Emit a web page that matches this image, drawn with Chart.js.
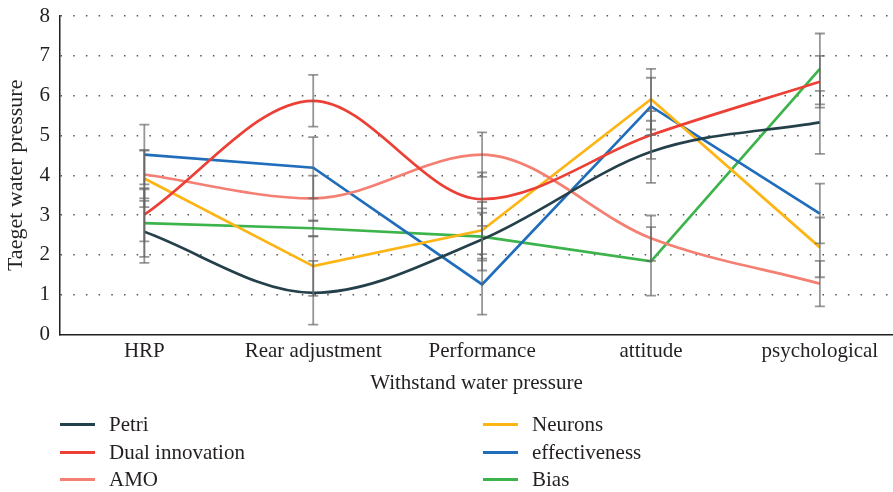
<!DOCTYPE html>
<html>
<head>
<meta charset="utf-8">
<script src="https://cdn.jsdelivr.net/npm/chart.js@4.4.0/dist/chart.umd.min.js"></script>
<style>
  html, body { margin: 0; padding: 0; background: #fff; }
  #wrap { position: relative; width: 893px; height: 492px; overflow: hidden; }
  #legend { position: absolute; left: 0; top: 0; width: 893px; height: 492px; pointer-events: none;
            font-family: 'Liberation Serif', 'DejaVu Serif', serif; font-size: 21px; color: #231f20; }
  .item { position: absolute; display: flex; align-items: center; height: 24px; white-space: nowrap; }
  .item span.sw { display: inline-block; width: 35px; height: 3px; margin-right: 14px; }
</style>
</head>
<body>
<div id="wrap">
  <canvas id="chart" width="893" height="492"></canvas>
  <div id="legend"></div>
</div>
<script>
// categories on the x axis
const categories = ['HRP', 'Rear adjustment', 'Performance', 'attitude', 'psychological'];

// series values and their error bar half-widths
const petri = [2.58, 1.05, 2.39, 4.59, 5.33];
const petriErr = [0.78, 0.80, 0.78, 0.78, 0.79];
const dualInnovation = [3.01, 5.87, 3.40, 5.01, 6.35];
const dualInnovationErr = [0.67, 0.65, 0.67, 0.60, 0.65];
const amo = [4.02, 3.42, 4.52, 2.42, 1.28];
const amoErr = [0.60, 0.57, 0.56, 0.57, 0.57];
const neurons = [3.92, 1.72, 2.62, 5.91, 2.19];
const neuronsErr = [0.72, 0.75, 0.71, 0.76, 0.75];
const effectiveness = [4.52, 4.19, 1.26, 5.73, 3.04];
const effectivenessErr = [0.75, 0.77, 0.76, 0.72, 0.75];
const bias = [2.80, 2.67, 2.46, 1.84, 6.67];
const biasErr = [0.85, 0.20, 0.60, 0.86, 0.89];

// y axis ticks
const yTicks = [0, 1, 2, 3, 4, 5, 6, 7, 8];

const font = { family: "'Liberation Serif', 'DejaVu Serif', serif", size: 21 };
const titleFont = { family: "'Liberation Serif', 'DejaVu Serif', serif", size: 22 };
const textColor = '#231f20';

const toPoints = arr => arr.map((v, i) => ({ x: i, y: v }));

const makeSet = (label, values, errors, color, smooth) => ({
    label: label,
    data: toPoints(values),
    errors: errors,
    borderColor: color,
    backgroundColor: color,
    borderWidth: 2.7,
    pointRadius: 0,
    fill: false,
    tension: 0,
    cubicInterpolationMode: smooth ? 'monotone' : 'default'
});

const datasets = [
    makeSet('Petri', petri, petriErr, '#24404a', true),
    makeSet('Dual innovation', dualInnovation, dualInnovationErr, '#ec3f35', true),
    makeSet('AMO', amo, amoErr, '#f47f73', true),
    makeSet('Neurons', neurons, neuronsErr, '#fdb515', false),
    makeSet('effectiveness', effectiveness, effectivenessErr, '#1f6dbb', false),
    makeSet('Bias', bias, biasErr, '#3cb44b', false)
];

// gray error bars, one per series at every category
const errorBars = {
    id: 'errorBars',
    afterDatasetsDraw(chart) {
        const { ctx, scales: { x, y } } = chart;
        ctx.save();
        ctx.strokeStyle = 'rgba(100,100,100,0.68)';
        ctx.lineWidth = 1.8;
        chart.data.datasets.forEach(ds => {
            ds.data.forEach((p, i) => {
                const e = ds.errors[i];
                const px = x.getPixelForValue(p.x);
                const top = y.getPixelForValue(p.y + e);
                const bot = y.getPixelForValue(p.y - e);
                ctx.beginPath();
                ctx.moveTo(px, top); ctx.lineTo(px, bot);
                ctx.stroke();
                ctx.beginPath();
                ctx.moveTo(px - 5, top); ctx.lineTo(px + 5, top);
                ctx.moveTo(px - 5, bot); ctx.lineTo(px + 5, bot);
                ctx.stroke();
            });
        });
        ctx.restore();
    }
};

const chart = new Chart(document.getElementById('chart').getContext('2d'), {
    type: 'line',
    data: { datasets: datasets },
    plugins: [errorBars],
    options: {
        responsive: false,
        animation: false,
        layout: { padding: { top: 0, right: 0, bottom: 96, left: 0 } },
        plugins: {
            legend: { display: false },
            tooltip: { enabled: false }
        },
        scales: {
            x: {
                type: 'linear',
                min: -0.5,
                max: 4.433,
                afterBuildTicks: scale => { scale.ticks = categories.map((c, i) => ({ value: i })); },
                ticks: {
                    callback: v => categories[v],
                    font: font,
                    color: textColor,
                    padding: 4,
                    maxRotation: 0,
                    autoSkip: false
                },
                grid: { display: false, drawTicks: false },
                border: { display: true, color: '#231f20', width: 1.5 },
                title: { display: true, text: 'Withstand water pressure', font: font, color: textColor, padding: { top: 3, bottom: 0 } }
            },
            y: {
                min: 0,
                max: 8,
                afterBuildTicks: scale => { scale.ticks = yTicks.map(v => ({ value: v })); },
                afterFit: scale => { scale.paddingTop = 16; },
                ticks: { font: font, color: textColor, padding: 10 },
                grid: {
                    drawTicks: false,
                    lineWidth: 1.5,
                    color: c => (c.tick && c.tick.value === 0) ? 'rgba(0,0,0,0)' : '#555'
                },
                border: { display: true, color: '#231f20', width: 1.5, dash: [1.5, 11.2] },
                title: { display: true, text: 'Taeget water pressure', font: titleFont, color: textColor, padding: { top: 3, bottom: 0 } }
            }
        }
    }
});

// two-column legend under the chart
const legendEl = document.getElementById('legend');
const legendCols = [60, 483];
const legendRows = [424, 452, 479];
datasets.forEach((ds, i) => {
    const item = document.createElement('div');
    item.className = 'item';
    item.style.left = legendCols[Math.floor(i / 3)] + 'px';
    item.style.top = (legendRows[i % 3] - 12) + 'px';
    const sw = document.createElement('span');
    sw.className = 'sw';
    sw.style.background = ds.borderColor;
    item.appendChild(sw);
    item.appendChild(document.createTextNode(ds.label));
    legendEl.appendChild(item);
});
</script>
</body>
</html>
